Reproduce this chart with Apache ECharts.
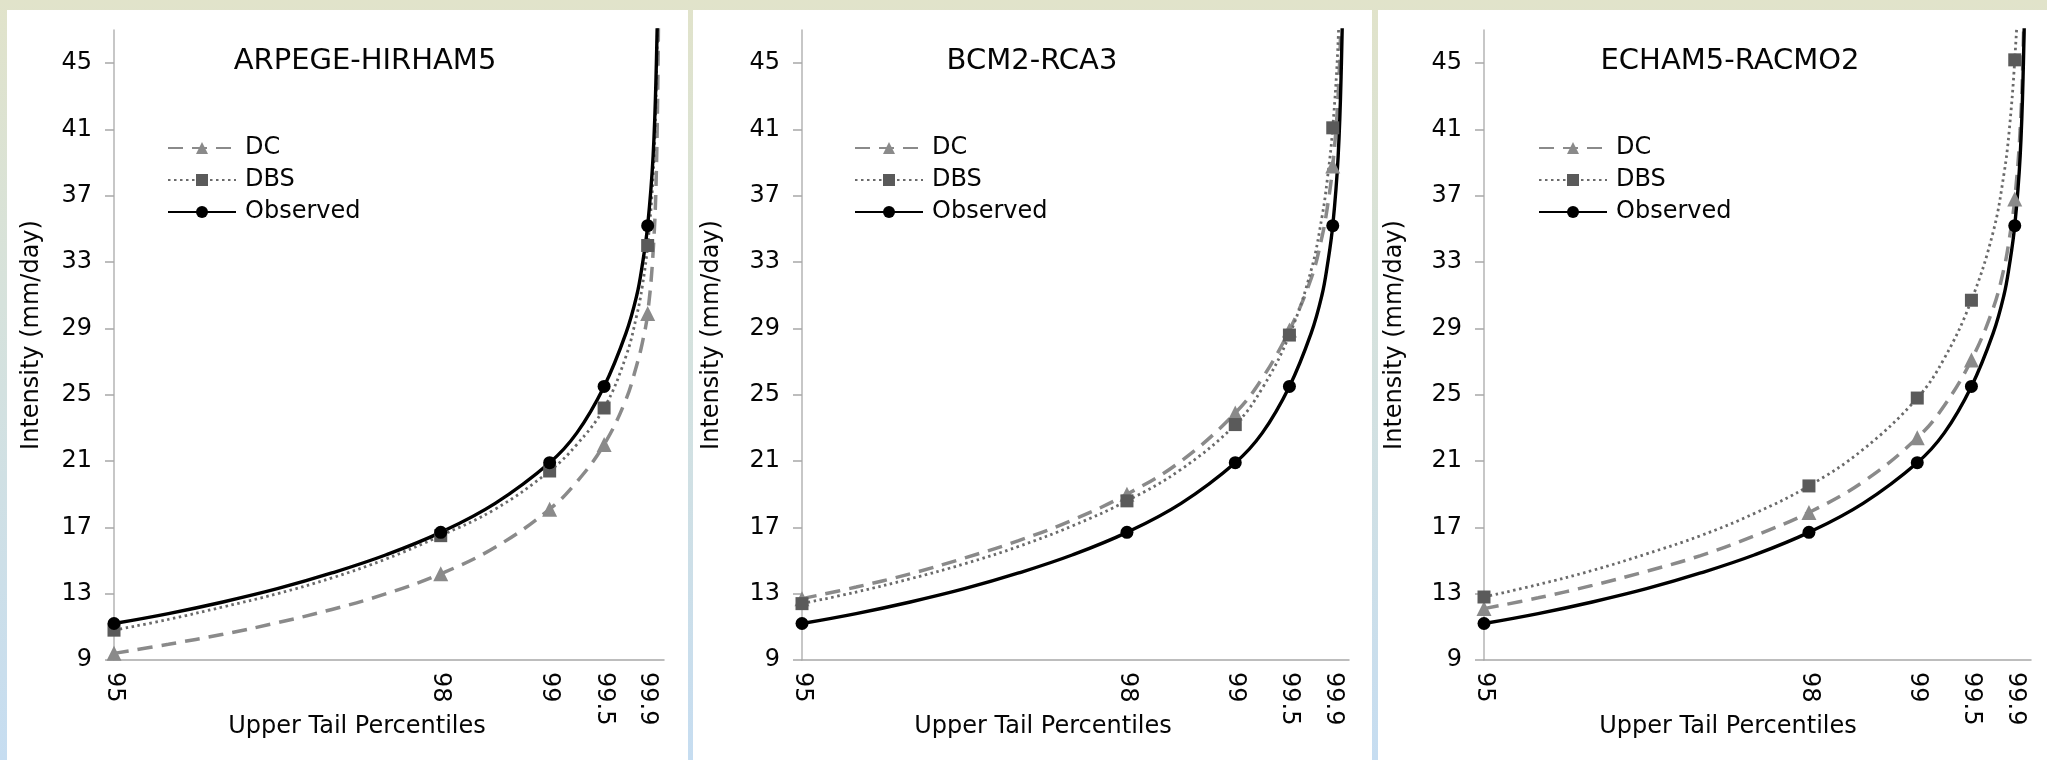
<!DOCTYPE html>
<html><head><meta charset="utf-8">
<script src="https://cdn.jsdelivr.net/npm/echarts@6/dist/echarts.min.js"></script>
<style>html,body{margin:0;padding:0;background:#fff;} #c{width:2047px;height:760px;}</style>
</head><body><div id="c"></div>
<script>
const percentiles = [95, 95.5, 96, 96.5, 97, 97.5, 98, 98.5, 99, 99.25, 99.5, 99.7, 99.8, 99.85, 99.9, 99.95, 99.98, 100];
const markerPercentiles = [95, 98, 99, 99.5, 99.9];
const xTickLabels = ['95', '98', '99', '99.5', '99.9'];
const yTicks = [9, 13, 17, 21, 25, 29, 33, 37, 41, 45];
const panelTitles = ['ARPEGE-HIRHAM5', 'BCM2-RCA3', 'ECHAM5-RACMO2'];
const seriesNames = ['DC', 'DBS', 'Observed'];
const xAxisName = 'Upper Tail Percentiles';
const yAxisName = 'Intensity (mm/day)';

const observed  = [11.2, 11.8, 12.5, 13.3, 14.25, 15.35, 16.7, 18.45, 20.9, 22.7, 25.5, 28.7, 31.0, 32.8, 35.2, 39.4, 45.0, 52.0];
const arpegeDC  = [9.4, 9.95, 10.55, 11.25, 12.05, 13.0, 14.2, 15.8, 18.1, 19.75, 22.0, 24.7, 26.8, 28.1, 29.9, 33.6, 38.5, 48.0];
const arpegeDBS = [10.8, 11.45, 12.2, 13.0, 13.95, 15.1, 16.5, 18.1, 20.4, 22.0, 24.2, 27.3, 29.8, 31.5, 34.0, 38.2, 43.8, 52.0];
const bcm2DC    = [12.7, 13.4, 14.2, 15.15, 16.2, 17.45, 19.0, 21.0, 23.9, 26.0, 28.9, 32.0, 34.5, 36.3, 38.8, 43.1, 48.8, 56.0];
const bcm2DBS   = [12.4, 13.1, 13.9, 14.8, 15.85, 17.1, 18.6, 20.5, 23.2, 25.4, 28.6, 32.5, 35.7, 38.0, 41.1, 46.4, 53.5, 60.0];
const echamDC   = [12.1, 12.75, 13.5, 14.35, 15.3, 16.5, 17.9, 19.75, 22.4, 24.35, 27.1, 30.2, 32.6, 34.4, 36.8, 41.0, 46.5, 54.0];
const echamDBS  = [12.8, 13.55, 14.4, 15.4, 16.5, 17.85, 19.5, 21.7, 24.8, 27.2, 30.7, 34.8, 38.3, 41.0, 45.2, 51.6, 60.0, 70.0];

const panelData = [
  [arpegeDC, arpegeDBS, observed],
  [bcm2DC, bcm2DBS, observed],
  [echamDC, echamDBS, observed]
];

// layout (pixels)
const grids = [
  {left: 114, top: 30, width: 550, height: 630},
  {left: 802, top: 30, width: 547, height: 630},
  {left: 1484, top: 30, width: 547, height: 630}
];
const panels = [[7, 10, 681, 750], [693, 10, 679, 750], [1378, 10, 669, 750]];
const titleX = [365, 1032, 1730];
const xNameX = [357, 1043, 1728];
const yNameX = [32, 712, 1395];
const legendLeft = [162, 849, 1533];

const FONT = '"DejaVu Sans", "Liberation Sans", Arial, sans-serif';
const TEXT = '#050505';
const styles = [
  {symbol: 'triangle', symbolSize: 15, color: '#8a8a8a', mcolor: '#8a8a8a', width: 3.5, type: [15, 9]},
  {symbol: 'rect', symbolSize: 13, color: '#6a6a6a', mcolor: '#5a5a5a', width: 2.8, type: [2.5, 3.5]},
  {symbol: 'circle', symbolSize: 13, color: '#000000', mcolor: '#000000', width: 3.4, type: 'solid'}
];

const series = [];
panelData.forEach((arrs, gi) => {
  arrs.forEach((vals, si) => {
    const st = styles[si];
    series.push({
      name: seriesNames[si],
      type: 'line',
      xAxisIndex: gi, yAxisIndex: gi,
      smooth: 0.4,
      symbol: st.symbol, symbolSize: st.symbolSize,
      showSymbol: true,
      clip: true,
      lineStyle: {color: st.color, width: st.width, type: st.type},
      itemStyle: {color: st.mcolor},
      emphasis: {disabled: true},
      data: percentiles.map((p, i) => ({
        value: [p, vals[i]],
        symbol: markerPercentiles.indexOf(p) >= 0 ? st.symbol : 'none'
      }))
    });
  });
});

const graphic = [
  {type: 'rect', z: -10, silent: true, shape: {x: 0, y: 0, width: 2047, height: 760},
   style: {fill: {type: 'linear', x: 0, y: 0, x2: 0, y2: 1,
     colorStops: [{offset: 0, color: '#e1e3ca'}, {offset: 0.4, color: '#d6e2dc'}, {offset: 1, color: '#c6ddf1'}]}}}
];
panels.forEach(p => graphic.push({type: 'rect', z: -9, silent: true,
  shape: {x: p[0], y: p[1], width: p[2], height: p[3]}, style: {fill: '#ffffff'}}));
panelTitles.forEach((t, i) => graphic.push({type: 'text', z: 10, x: titleX[i], y: 61,
  style: {text: t, font: '29px ' + FONT, fill: TEXT, align: 'center', verticalAlign: 'middle'}}));
xNameX.forEach(x => graphic.push({type: 'text', z: 10, x: x, y: 727,
  style: {text: xAxisName, font: '24px ' + FONT, fill: TEXT, align: 'center', verticalAlign: 'middle'}}));
yNameX.forEach(x => graphic.push({type: 'text', z: 10, x: x, y: 335, rotation: Math.PI / 2,
  style: {text: yAxisName, font: '24px ' + FONT, fill: TEXT, align: 'center', verticalAlign: 'middle'}}));

const option = {
  animation: false,
  graphic: graphic,
  grid: grids.map(g => Object.assign({containLabel: false}, g)),
  legend: legendLeft.map(l => ({
    orient: 'vertical', left: l, top: 131,
    itemWidth: 68, itemHeight: 15, itemGap: 8,
    selectedMode: false,
    textStyle: {fontFamily: FONT, fontSize: 24, color: TEXT, lineHeight: 24, padding: [0, 0, 0, 4]},
    data: seriesNames
  })),
  xAxis: grids.map((g, i) => ({
    type: 'value', gridIndex: i, min: 95, max: 100.05,
    axisLine: {show: true, lineStyle: {color: '#a8a8a8', width: 1.5}},
    axisTick: {show: false},
    splitLine: {show: false},
    axisLabel: {
      customValues: markerPercentiles,
      formatter: v => { const k = markerPercentiles.indexOf(v); return k >= 0 ? xTickLabels[k] : ''; },
      rotate: -90, margin: 12, fontFamily: FONT, fontSize: 24, color: TEXT
    }
  })),
  yAxis: grids.map((g, i) => ({
    type: 'value', gridIndex: i, min: 9, max: 47,
    axisLine: {show: true, lineStyle: {color: '#b4b4b4', width: 1.5}},
    axisTick: {show: true, customValues: yTicks, length: 9, lineStyle: {color: '#a8a8a8', width: 1.5}},
    splitLine: {show: false},
    axisLabel: {customValues: yTicks, margin: 22, fontFamily: FONT, fontSize: 24, color: TEXT}
  })),
  series: series
};

const chart = echarts.init(document.getElementById('c'), null, {renderer: 'canvas'});
chart.setOption(option);
</script>
</body></html>
